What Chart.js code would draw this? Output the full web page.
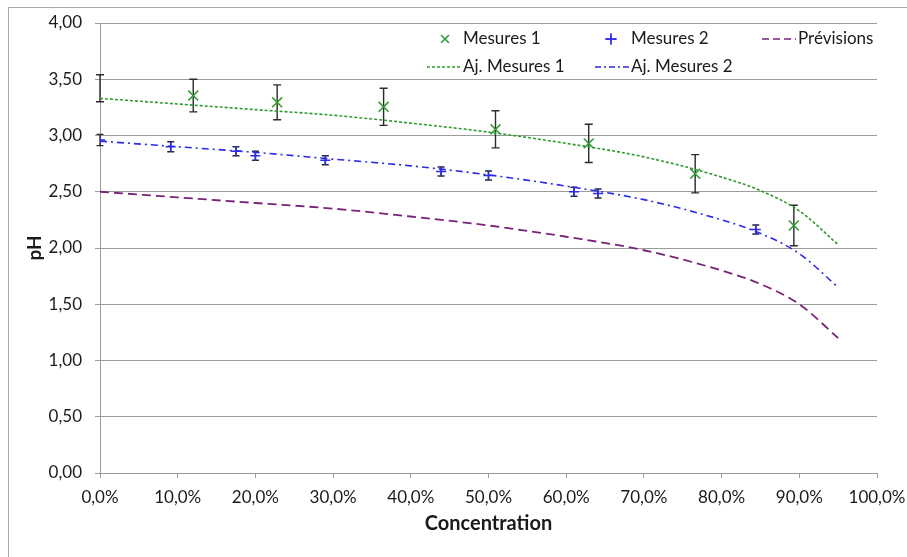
<!DOCTYPE html>
<html>
<head>
<meta charset="utf-8">
<script src="https://cdn.jsdelivr.net/npm/chart.js@4/dist/chart.umd.min.js"></script>
<style>
  body { margin: 0; background: #fff; }
  #wrap { position: relative; width: 907px; height: 557px; overflow: hidden; }
  #frame { position: absolute; left: 8px; top: 7px; width: 950px; height: 600px;
           border-left: 1px solid #a8a8a8; border-top: 1px solid #a8a8a8; }
  #myChart { position: absolute; left: 0; top: 0; }
</style>
</head>
<body>
<div id="wrap">
  <div id="frame"></div>
  <canvas id="myChart" width="907" height="557"></canvas>
</div>
<script>
// mesures 1 (x en %, pH, incertitude)
var mes1X = [0, 12.0, 22.8, 36.5, 50.9, 62.9, 76.6, 89.3];
var mes1Y = [3.42, 3.355, 3.295, 3.255, 3.055, 2.93, 2.66, 2.20];
var mes1Err = [0.12, 0.145, 0.155, 0.165, 0.165, 0.17, 0.17, 0.18];

// mesures 2
var mes2X = [0, 9.1, 17.5, 20.0, 29.0, 43.9, 50.0, 61.0, 64.1, 84.4];
var mes2Y = [2.96, 2.90, 2.86, 2.82, 2.78, 2.68, 2.645, 2.50, 2.485, 2.165];
var mes2Err = [0.05, 0.045, 0.04, 0.04, 0.04, 0.04, 0.04, 0.04, 0.04, 0.04];

// courbes (ajustements et previsions)
var curveX = [0, 10, 20, 30, 40, 50, 60, 70, 80, 85, 90, 95];
var ajust1Y = [3.33, 3.28, 3.23, 3.18, 3.11, 3.03, 2.93, 2.81, 2.63, 2.51, 2.33, 2.03];
var ajust2Y = [2.95, 2.90, 2.85, 2.79, 2.73, 2.65, 2.55, 2.43, 2.25, 2.13, 1.95, 1.65];
var prevY = [2.50, 2.45, 2.40, 2.35, 2.28, 2.20, 2.10, 1.98, 1.80, 1.68, 1.50, 1.20];

var xTicks = [0, 10, 20, 30, 40, 50, 60, 70, 80, 90, 100];
var yTicks = [0, 0.5, 1, 1.5, 2, 2.5, 3, 3.5, 4];

var FONT = 'Lato, "Open Sans", sans-serif';
var GREEN = '#2f9a2f';
var BLUE = '#2b2bea';
var PURPLE = '#7a2278';

function pts(xs, ys) {
  return xs.map(function(x, i){ return {x: x, y: ys[i]}; });
}

// barres d'erreur
var errorBars = {
  id: 'errorBars',
  beforeDatasetsDraw: function(chart) {
    var ctx = chart.ctx;
    var ys = chart.scales.y, xs = chart.scales.x;
    var sets = [[mes1X, mes1Y, mes1Err, 4], [mes2X, mes2Y, mes2Err, 3.5]];
    ctx.save();
    ctx.strokeStyle = '#2b2b2b';
    ctx.lineWidth = 1.4;
    sets.forEach(function(s){
      s[0].forEach(function(x, i){
        var px = xs.getPixelForValue(x);
        var top = ys.getPixelForValue(s[1][i] + s[2][i]);
        var bot = ys.getPixelForValue(s[1][i] - s[2][i]);
        ctx.beginPath();
        ctx.moveTo(px, top); ctx.lineTo(px, bot);
        ctx.moveTo(px - s[3], top); ctx.lineTo(px + s[3], top);
        ctx.moveTo(px - s[3], bot); ctx.lineTo(px + s[3], bot);
        ctx.stroke();
      });
    });
    ctx.restore();
  }
};

// legende en grille, style Excel
var legendGrid = {
  id: 'legendGrid',
  afterDraw: function(chart) {
    var ctx = chart.ctx;
    var items = [
      {text: 'Mesures 1', kind: 'point', style: 'crossRot', color: GREEN, sx: 445, tx: 463, y: 39},
      {text: 'Mesures 2', kind: 'point', style: 'cross', color: BLUE, sx: 611, tx: 631, y: 39},
      {text: 'Prévisions', kind: 'line', dash: [7, 4], color: PURPLE, sx: 762, tx: 798, y: 39},
      {text: 'Aj. Mesures 1', kind: 'line', dash: [3, 2], color: GREEN, sx: 427, tx: 463, y: 67},
      {text: 'Aj. Mesures 2', kind: 'line', dash: [6, 3, 2, 3], color: BLUE, sx: 595, tx: 631, y: 67}
    ];
    ctx.save();
    items.forEach(function(it){
      ctx.strokeStyle = it.color;
      if (it.kind === 'point') {
        ctx.lineWidth = 1.3;
        Chart.helpers.drawPoint(ctx, {pointStyle: it.style, radius: 5.5, rotation: 0, borderWidth: 1.3}, it.sx, it.y);
        ctx.stroke();
      } else {
        ctx.lineWidth = 1.6;
        ctx.setLineDash(it.dash);
        ctx.beginPath();
        ctx.moveTo(it.sx, it.y); ctx.lineTo(it.sx + 34, it.y);
        ctx.stroke();
        ctx.setLineDash([]);
      }
      ctx.fillStyle = '#1a1a1a';
      ctx.font = '17px ' + FONT;
      ctx.textBaseline = 'middle';
      ctx.textAlign = 'left';
      ctx.fillText(it.text, it.tx, it.y);
    });
    ctx.restore();
  }
};

var chart = new Chart(document.getElementById('myChart').getContext('2d'), {
  type: 'scatter',
  data: {
    datasets: [
      {
        label: 'Mesures 1', data: pts(mes1X, mes1Y), showLine: false,
        pointStyle: 'crossRot', pointRadius: mes1X.map(function(x, i){ return i === 0 ? 0 : 7; }),
        borderColor: GREEN, backgroundColor: GREEN, pointBorderWidth: 1.5
      },
      {
        label: 'Mesures 2', data: pts(mes2X, mes2Y), showLine: false,
        pointStyle: 'cross', pointRadius: 5,
        borderColor: BLUE, backgroundColor: BLUE, pointBorderWidth: 1.6
      },
      {
        label: 'Prévisions', data: pts(curveX, prevY), showLine: true, pointRadius: 0,
        borderColor: PURPLE, borderWidth: 1.8, borderDash: [9, 5], cubicInterpolationMode: 'monotone'
      },
      {
        label: 'Aj. Mesures 1', data: pts(curveX, ajust1Y), showLine: true, pointRadius: 0,
        borderColor: GREEN, borderWidth: 1.6, borderDash: [3, 2], cubicInterpolationMode: 'monotone'
      },
      {
        label: 'Aj. Mesures 2', data: pts(curveX, ajust2Y), showLine: true, pointRadius: 0,
        borderColor: BLUE, borderWidth: 1.6, borderDash: [7, 4, 2, 4], cubicInterpolationMode: 'monotone'
      }
    ]
  },
  options: {
    responsive: false,
    animation: false,
    layout: { padding: { top: 23, right: 30, left: 0, bottom: 0 } },
    plugins: { legend: { display: false }, tooltip: { enabled: false } },
    scales: {
      x: {
        type: 'linear', min: 0, max: 100,
        afterFit: function(s){ s.height = 84; s.paddingLeft = 0; s.paddingRight = 0; },
        afterBuildTicks: function(s){ s.ticks = xTicks.map(function(v){ return {value: v}; }); },
        grid: { drawOnChartArea: false, drawTicks: true, tickLength: 5, color: '#9c9c9c' },
        border: { color: '#9c9c9c' },
        ticks: {
          padding: 9, color: '#1a1a1a', font: { family: FONT, size: 17 }, maxRotation: 0,
          callback: function(v){ return v.toFixed(1).replace('.', ',') + '%'; }
        },
        title: { display: true, text: 'Concentration', color: '#1a1a1a',
                 font: { family: FONT, size: 20, weight: 'bold' }, padding: { top: 4, bottom: 21 } }
      },
      y: {
        min: 0, max: 4,
        afterFit: function(s){ s.width = 100; s.paddingTop = 0; s.paddingBottom = 0; },
        afterBuildTicks: function(s){ s.ticks = yTicks.map(function(v){ return {value: v}; }); },
        grid: { drawTicks: true, tickLength: 5, color: '#9c9c9c' },
        border: { color: '#9c9c9c' },
        ticks: {
          padding: 13, color: '#1a1a1a', font: { family: FONT, size: 17 },
          callback: function(v){ return v.toFixed(2).replace('.', ','); }
        },
        title: { display: true, text: 'pH', color: '#1a1a1a',
                 font: { family: FONT, size: 19, weight: 'bold' }, padding: { top: 23, bottom: 0 } }
      }
    }
  },
  plugins: [errorBars, legendGrid]
});
</script>
</body>
</html>
